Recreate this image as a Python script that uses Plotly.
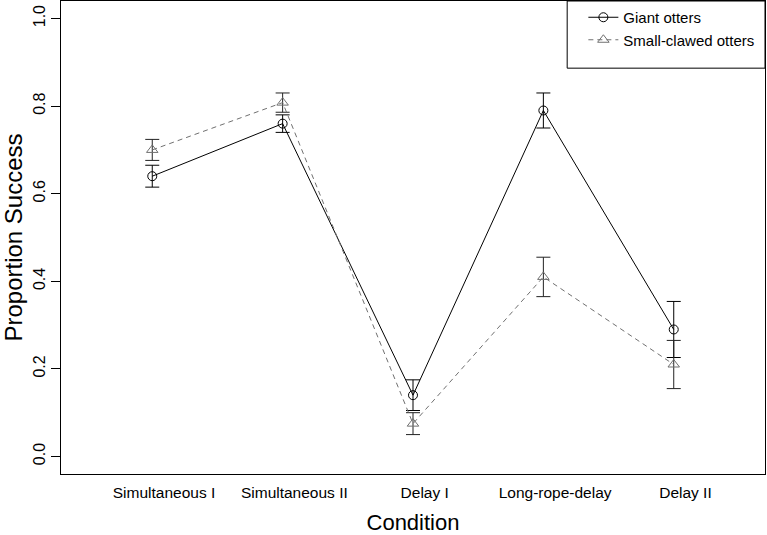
import plotly.graph_objects as go

# conditions, in order along the x axis
conditions = ['Simultaneous I', 'Simultaneous II', 'Delay I', 'Long-rope-delay', 'Delay II']
cond_x = [1, 2, 3, 4, 5]

# mean proportion success and error bar half-widths
giant_mean = [0.64, 0.76, 0.14, 0.79, 0.29]
giant_err = [0.025, 0.02, 0.035, 0.04, 0.064]
small_mean = [0.70, 0.808, 0.075, 0.41, 0.21]
small_err = [0.024, 0.022, 0.025, 0.045, 0.055]

y_ticks = [0.0, 0.2, 0.4, 0.6, 0.8, 1.0]

FONT = 'Liberation Sans, Arial, Helvetica, sans-serif'

fig = go.Figure()

fig.add_trace(go.Scatter(
    x=cond_x, y=giant_mean,
    mode='lines+markers',
    name='Giant otters',
    line=dict(color='black', width=1),
    marker=dict(symbol='circle-open', size=9, color='black', line=dict(width=1)),
    error_y=dict(type='data', array=giant_err, visible=True,
                 color='black', thickness=1, width=7),
))

fig.add_trace(go.Scatter(
    x=cond_x, y=small_mean,
    mode='lines+markers',
    name='Small-clawed otters',
    line=dict(color='#707070', width=1, dash='5px,4px'),
    marker=dict(symbol='triangle-up-open', size=10, color='#707070', line=dict(width=1)),
    error_y=dict(type='data', array=small_err, visible=True,
                 color='#222222', thickness=1, width=7),
))

# legend box (R style)
fig.add_shape(type='rect', xref='paper', yref='paper',
              x0=0.719, x1=1.0, y0=0.858, y1=1.0,
              line=dict(color='black', width=1), fillcolor='white', layer='below')

# category labels sit a little right of the points in the original
fig.update_xaxes(
    range=[0.3, 5.7], automargin=False,
    tickvals=[x + 0.09 for x in cond_x], ticktext=conditions,
    showgrid=False, zeroline=False,
    showline=True, mirror=True, linecolor='black', linewidth=1,
    ticks='', tickfont=dict(size=15.5, color='black'), ticklabelstandoff=4,
    title=dict(text='Condition', font=dict(size=22, color='black'), standoff=16),
)

fig.update_yaxes(
    range=[-0.04, 1.04], automargin=False,
    tickvals=y_ticks, ticktext=[f'{v:.1f}' for v in y_ticks],
    showgrid=False, zeroline=False,
    showline=True, mirror=True, linecolor='black', linewidth=1,
    ticks='outside', ticklen=9, tickcolor='black',
    tickangle=-90, tickfont=dict(size=16, color='black'),
    title=dict(text='Proportion Success', font=dict(size=24, color='black'), standoff=6),
)

fig.update_layout(
    width=767, height=535,
    margin=dict(l=61, r=2, t=1, b=61),
    paper_bgcolor='white', plot_bgcolor='white',
    font=dict(family=FONT, color='black'),
    legend=dict(x=0.742, y=1.0, xanchor='left', yanchor='top',
                bgcolor='rgba(0,0,0,0)', borderwidth=0,
                font=dict(size=15), itemwidth=30, tracegroupgap=0),
)

# drop the page's default body margin so the figure sits at the window corner
fig.write_html('out.html', config={'displayModeBar': False},
               post_script="document.body.style.margin='0';")
